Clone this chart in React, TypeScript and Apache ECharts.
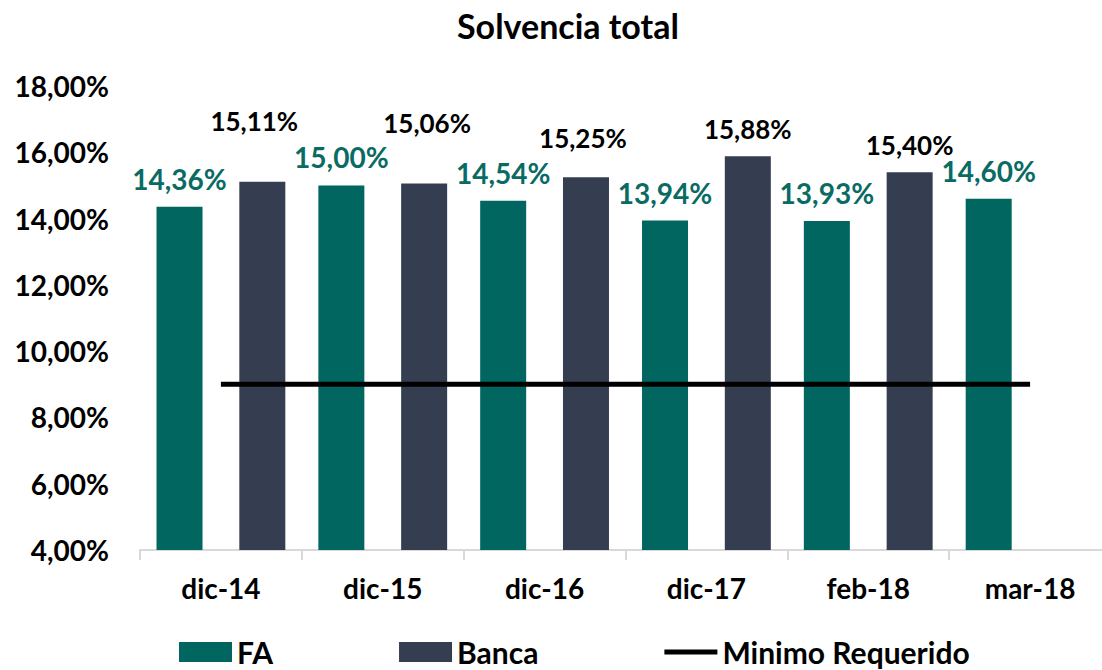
import React, { useEffect, useRef } from "react";
import * as echarts from "echarts";

const categories = ["dic-14", "dic-15", "dic-16", "dic-17", "feb-18", "mar-18"];
const faValues = [14.36, 15.0, 14.54, 13.94, 13.93, 14.6];
const bancaValues: (number | null)[] = [15.11, 15.06, 15.25, 15.88, 15.4, null];
const minimoValues = [9, 9, 9, 9, 9, 9];
// manual label nudges (dx, dy) for the Banca labels, as in the reference
const bancaLabelOffsets: [number, number][] = [
  [-8, -34],
  [3, -33],
  [-3, -12],
  [0, 0],
  [0, 0],
  [0, 0],
];

const FONT = "Lato";
const fmt = (v: number) => v.toFixed(2).replace(".", ",") + "%";

export default function App() {
  const ref = useRef<HTMLDivElement>(null);
  useEffect(() => {
    document.body.style.margin = "0";
    const chart = echarts.init(ref.current!, null, { renderer: "svg" });
    chart.setOption({
      animation: false,
      backgroundColor: "#ffffff",
      textStyle: { fontFamily: FONT },
      title: {
        text: "Solvencia total",
        left: 457,
        top: 8,
        padding: 0,
        textStyle: { fontFamily: FONT, fontWeight: "bold", fontSize: 34, color: "#000" },
      },
      legend: {
        left: 179,
        top: 637,
        padding: 0,
        itemWidth: 53,
        itemHeight: 20,
        itemGap: 126,
        textStyle: { fontFamily: FONT, fontWeight: "bold", fontSize: 30, color: "#000", lineHeight: 30 },
        data: [
          { name: "FA", icon: "rect" },
          { name: "Banca", icon: "rect" },
          { name: "Minimo Requerido", icon: "path://M0,0H53V5H0Z" },
        ],
      },
      grid: { left: 140, top: 86, width: 971, height: 464, outerBoundsMode: "none" },
      xAxis: {
        type: "category",
        data: categories,
        axisLine: { lineStyle: { color: "#d9d9d9", width: 2 } },
        axisTick: { show: true, length: 10, lineStyle: { color: "#d9d9d9", width: 2 } },
        axisLabel: {
          fontFamily: FONT,
          fontWeight: "bold",
          fontSize: 28,
          color: "#000",
          margin: 24,
        },
      },
      yAxis: {
        type: "value",
        min: 4,
        max: 18,
        interval: 2,
        axisLine: { show: false },
        axisTick: { show: false },
        splitLine: { show: false },
        axisLabel: {
          fontFamily: FONT,
          fontWeight: "bold",
          fontSize: 28,
          color: "#000",
          margin: 31,
          formatter: (v: number) => fmt(v),
        },
      },
      series: [
        {
          name: "FA",
          type: "bar",
          data: faValues,
          barWidth: 46,
          barGap: "80%",
          itemStyle: { color: "#00665f" },
          label: {
            show: true,
            position: "top",
            distance: 14,
            fontFamily: FONT,
            fontWeight: "bold",
            fontSize: 28,
            color: "#0a6b64",
            formatter: (p: any) => fmt(p.value),
          },
        },
        {
          name: "Banca",
          type: "bar",
          barWidth: 46,
          itemStyle: { color: "#343e50" },
          data: bancaValues.map((v, i) => ({
            value: v,
            label: { offset: bancaLabelOffsets[i] },
          })),
          label: {
            show: true,
            position: "top",
            distance: 14,
            fontFamily: FONT,
            fontWeight: "bold",
            fontSize: 26,
            color: "#000",
            formatter: (p: any) => (p.value == null ? "" : fmt(p.value)),
          },
        },
        {
          name: "Minimo Requerido",
          type: "line",
          data: minimoValues,
          symbol: "none",
          lineStyle: { color: "#000", width: 5 },
          itemStyle: { color: "#000" },
        },
      ],
    });
    return () => chart.dispose();
  }, []);
  return <div ref={ref} style={{ width: 1102, height: 670 }} />;
}
